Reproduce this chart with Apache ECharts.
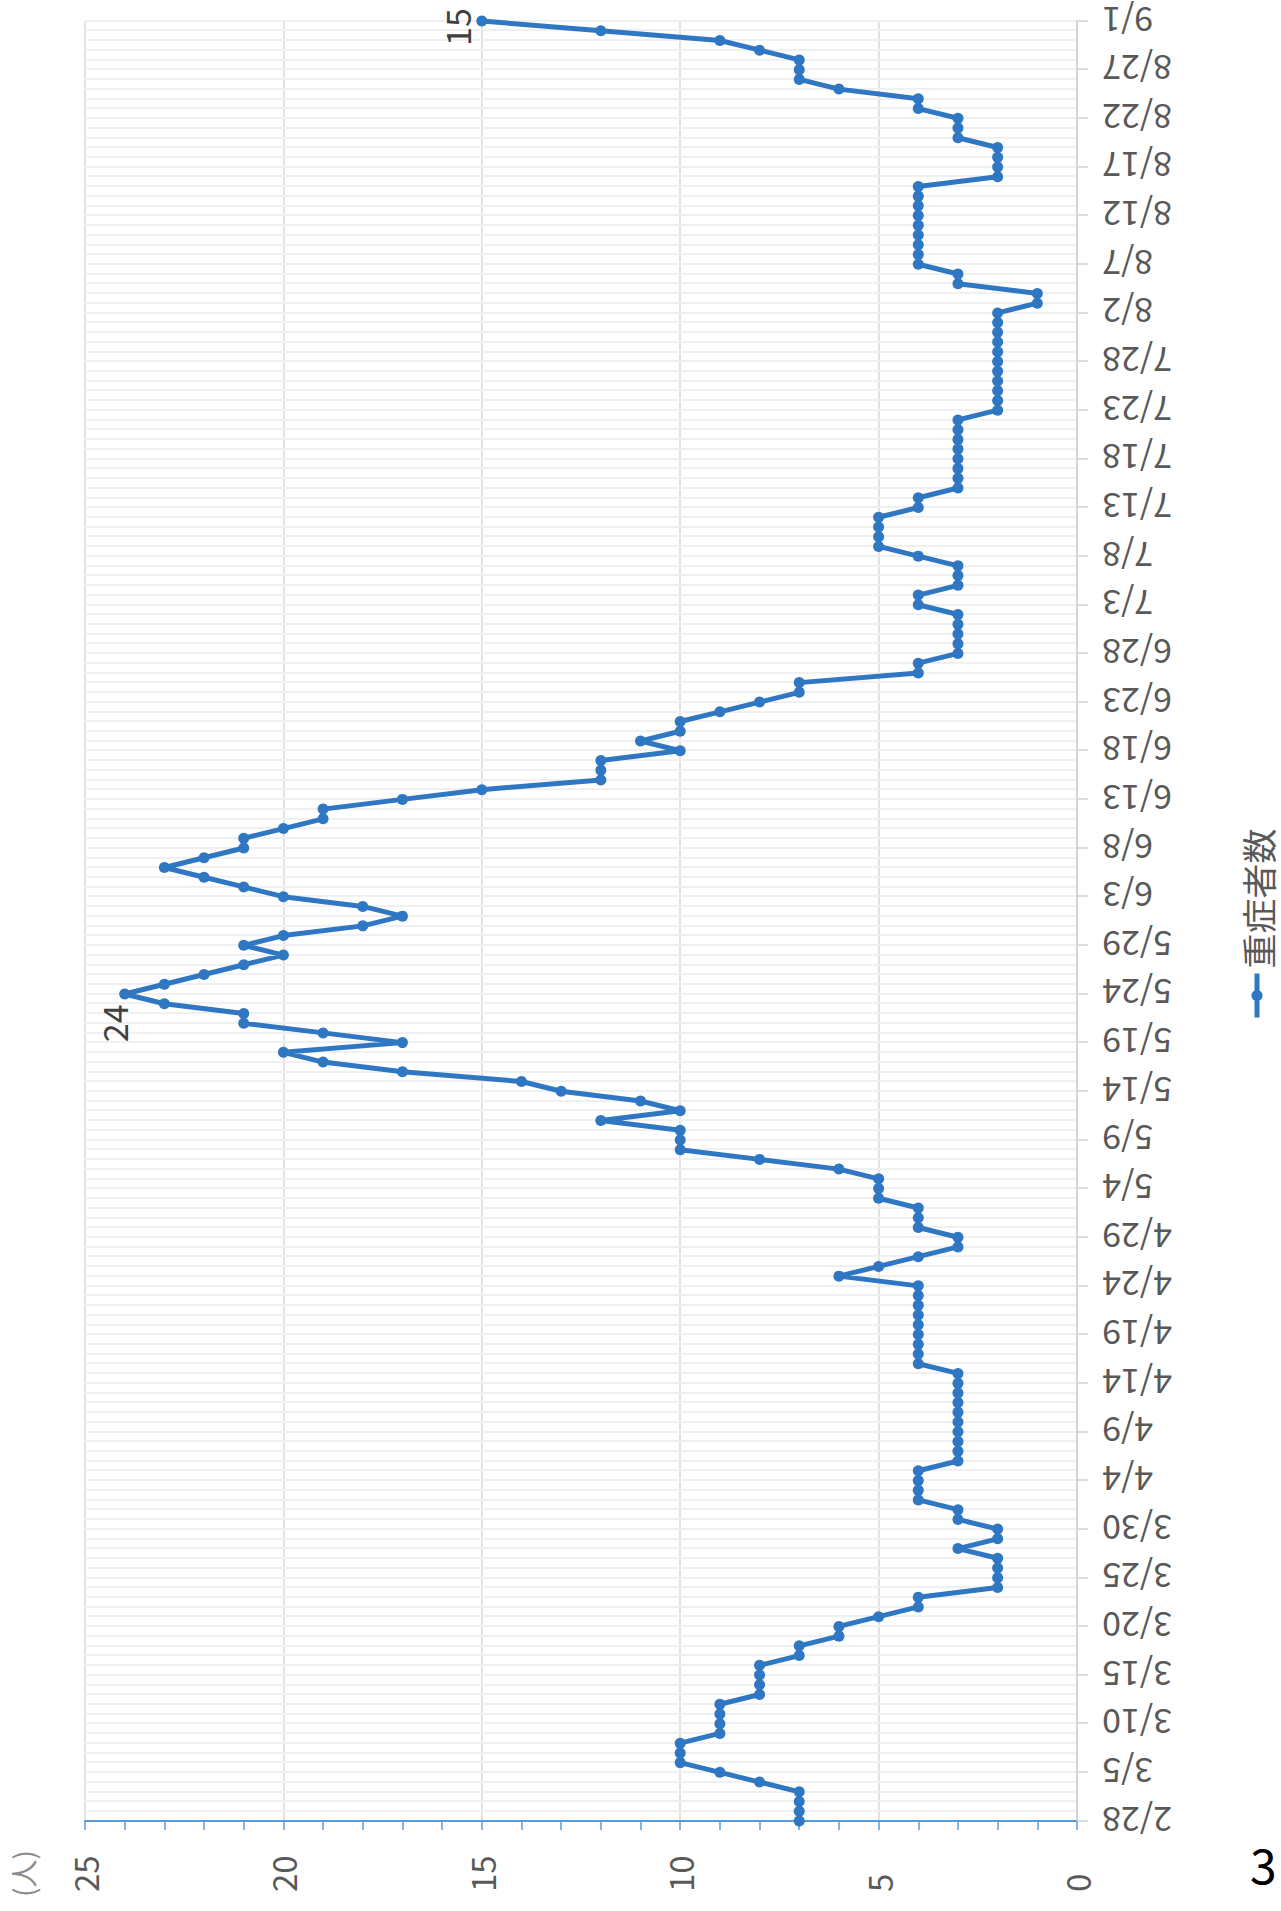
<!DOCTYPE html>
<html>
<head>
<meta charset="utf-8">
<script src="https://cdn.jsdelivr.net/npm/echarts@6/dist/echarts.min.js"></script>
<style>
  html, body { margin: 0; padding: 0; background: #fff; overflow: hidden; width: 1281px; height: 1911px; }
  /* the chart is drawn landscape and turned a quarter turn, like the scanned page */
  #chart { position: absolute; left: 0; top: 0; width: 1911px; height: 1281px;
           transform-origin: 0 0; transform: translate(0, 1911px) rotate(-90deg); }
  #page { position: absolute; left: 1250px; top: 1839px; font: 48px/48px "Noto Sans CJK JP", sans-serif; color: #000; }
</style>
</head>
<body>
<div id="chart"></div>
<div id="page">3</div>
<script>
// 重症者数 per day, one array per month
const feb = [7]; // 2/28 only
const mar = [7, 7, 7, 8, 9, 10, 10, 10, 9, 9, 9, 9, 8, 8, 8, 8, 7, 7, 6, 6, 5, 4, 4, 2, 2, 2, 2, 3, 2, 2, 3];
const apr = [3, 4, 4, 4, 4, 3, 3, 3, 3, 3, 3, 3, 3, 3, 3, 4, 4, 4, 4, 4, 4, 4, 4, 4, 6, 5, 4, 3, 3, 4];
const may = [4, 4, 5, 5, 5, 6, 8, 10, 10, 10, 12, 10, 11, 13, 14, 17, 19, 20, 17, 19, 21, 21, 23, 24, 23, 22, 21, 20, 21, 20, 18];
const jun = [17, 18, 20, 21, 22, 23, 22, 21, 21, 20, 19, 19, 17, 15, 12, 12, 12, 10, 11, 10, 10, 9, 8, 7, 7, 4, 4, 3, 3, 3];
const jul = [3, 3, 4, 4, 3, 3, 3, 4, 5, 5, 5, 5, 4, 4, 3, 3, 3, 3, 3, 3, 3, 3, 2, 2, 2, 2, 2, 2, 2, 2, 2];
const aug = [2, 2, 1, 1, 3, 3, 4, 4, 4, 4, 4, 4, 4, 4, 4, 2, 2, 2, 2, 3, 3, 3, 4, 4, 6, 7, 7, 7, 8, 9, 12];
const sep = [15]; // 9/1 only

// [month, first day, values]
const months = [[2, 28, feb], [3, 1, mar], [4, 1, apr], [5, 1, may], [6, 1, jun], [7, 1, jul], [8, 1, aug], [9, 1, sep]];

const seriesName = '重症者数';
const unitLabel = '(人)';
const labelledDays = ['5/24', '9/1'];

const categories = [];
const values = [];
months.forEach(([m, first, arr]) => {
  arr.forEach((v, k) => {
    categories.push(`${m}/${first + k}`);
    values.push(v);
  });
});

const FONT = '"Noto Sans CJK JP", "Noto Sans", sans-serif';
const BLUE = '#2F77C2';
const AXIS_BLUE = '#5B9BD5';
const TEXT = '#595959';

// hand placed data labels, as in the source
const labelPos = {
  '9/1': { position: 'top', distance: 3, offset: [-6, 0] },
  '5/24': { position: 'left', distance: 5, offset: [0, -11] },
};

const seriesData = values.map((v, i) => {
  const day = categories[i];
  if (!labelledDays.includes(day)) return v;
  return {
    value: v,
    label: Object.assign({ show: true, fontSize: 34, color: '#404040', fontFamily: FONT }, labelPos[day]),
  };
});

const chart = echarts.init(document.getElementById('chart'), null, { renderer: 'svg' });

chart.setOption({
  animation: false,
  grid: { left: 90, right: 21, top: 85, bottom: 204 },
  legend: {
    data: [seriesName],
    left: 886,
    top: 1234,
    itemWidth: 44,
    itemHeight: 14,
    lineStyle: { width: 5 },
    textStyle: { fontSize: 35, lineHeight: 36, color: TEXT, fontFamily: FONT },
  },
  graphic: [
    {
      type: 'text',
      left: 14,
      top: 9,
      style: { text: unitLabel, fontSize: 28, fill: '#8C8C8C', fontFamily: FONT },
    },
  ],
  xAxis: {
    type: 'category',
    data: categories,
    boundaryGap: false,
    axisLine: { lineStyle: { color: '#D0D0D0', width: 1.5 } },
    axisTick: { show: true, interval: 4, length: 11, lineStyle: { color: '#D0D0D0', width: 1.5 } },
    axisLabel: { interval: 4, rotate: 90, margin: 25, fontSize: 34, color: TEXT, fontFamily: FONT },
    splitLine: { show: true, interval: 0, lineStyle: { color: '#F0F0F0', width: 2 } },
  },
  yAxis: {
    type: 'value',
    min: 0,
    max: 25,
    interval: 5,
    axisLine: { show: true, lineStyle: { color: AXIS_BLUE, width: 2 } },
    axisTick: { show: true, length: 9, lineStyle: { color: AXIS_BLUE, width: 1.5 } },
    minorTick: { show: true, splitNumber: 5, length: 9, lineStyle: { color: AXIS_BLUE, width: 1.5 } },
    axisLabel: { align: 'left', margin: 71, fontSize: 33, color: TEXT, fontFamily: FONT },
    splitLine: { lineStyle: { color: '#D9D9D9', width: 1.5 } },
  },
  series: [
    {
      name: seriesName,
      type: 'line',
      data: seriesData,
      symbol: 'circle',
      symbolSize: 11,
      showAllSymbol: true,
      lineStyle: { color: BLUE, width: 5 },
      itemStyle: { color: BLUE },
    },
  ],
});
</script>
</body>
</html>
